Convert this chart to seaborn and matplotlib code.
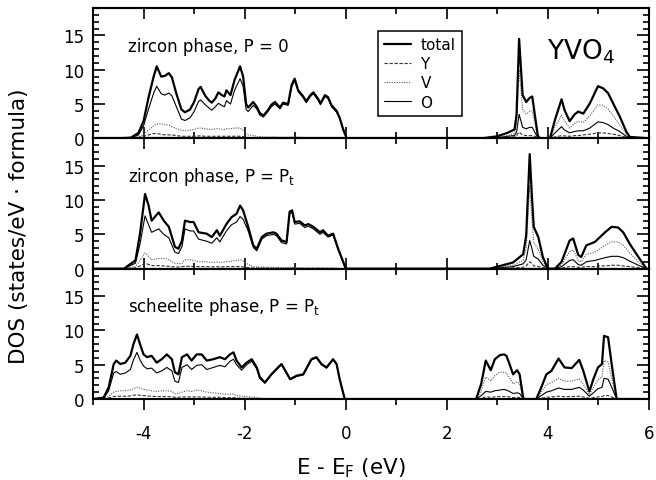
import matplotlib
matplotlib.use("Agg")
import matplotlib.pyplot as plt
from matplotlib.lines import Line2D
from matplotlib.ticker import MultipleLocator
import pandas as pd
import seaborn as sns

sns.set_style("ticks")
plt.rcParams["font.family"] = ["DejaVu Sans"]
plt.rcParams["mathtext.default"] = "regular"
plt.rcParams["axes.unicode_minus"] = False
for key in ["text.color", "axes.labelcolor", "axes.edgecolor", "xtick.color", "ytick.color"]:
    plt.rcParams[key] = "black"

# ---- zircon phase, P = 0 ----
zircon0_vb_e = [-5.0, -4.5, -4.25, -4.1, -4.0, -3.9, -3.8, -3.74, -3.65, -3.58, -3.5, -3.44, -3.35, -3.25, -3.18,
                -3.08, -3.0, -2.91, -2.87, -2.78, -2.7, -2.65, -2.58, -2.52, -2.45, -2.4, -2.36, -2.28, -2.2, -2.09,
                -2.03, -1.97, -1.93, -1.83, -1.76, -1.7, -1.63, -1.55, -1.47, -1.4, -1.3, -1.24, -1.14, -1.07, -1.01,
                -0.94, -0.85, -0.78, -0.7, -0.64, -0.55, -0.5, -0.41, -0.35, -0.28, -0.18, -0.12, -0.05, 0.02]
zircon0_vb_total = [0, 0, 0.1, 0.8, 2.5, 6.0, 9.0, 10.5, 9.0, 9.1, 9.5, 8.9, 6.5, 4.2, 3.8,
                    4.2, 5.3, 7.2, 7.5, 6.2, 5.5, 5.2, 5.8, 6.7, 6.3, 6.1, 7.0, 6.3, 8.5, 10.5,
                    9.0, 5.0, 4.5, 5.3, 4.6, 3.7, 3.3, 4.0, 4.9, 5.3, 4.5, 5.2, 5.0, 7.8, 8.7,
                    7.0, 6.2, 5.4, 6.3, 6.7, 5.8, 5.1, 6.3, 6.0, 4.8, 4.0, 3.0, 1.3, 0]
zircon0_vb_o = [0, 0, 0.05, 0.5, 1.8, 4.3, 6.6, 7.6, 6.5, 6.3, 6.6, 6.2, 4.6, 2.8, 2.6,
                3.0, 3.9, 5.4, 5.6, 4.9, 4.4, 4.1, 4.6, 5.1, 4.8, 4.6, 5.5, 5.0, 7.0, 8.7,
                7.6, 4.2, 3.9, 4.8, 4.3, 3.4, 3.1, 3.8, 4.6, 5.0, 4.3, 5.0, 4.8, 7.5, 8.4,
                6.8, 6.0, 5.2, 6.1, 6.5, 5.6, 4.9, 6.1, 5.8, 4.6, 3.8, 2.9, 1.2, 0]
zircon0_vb_v = [0, 0, 0.02, 0.2, 0.5, 1.2, 1.8, 2.1, 2.1, 2.0, 1.9, 1.7, 1.4, 1.2, 1.1,
                1.2, 1.3, 1.5, 1.5, 1.4, 1.3, 1.3, 1.4, 1.4, 1.3, 1.3, 1.4, 1.4, 1.5, 1.5,
                1.2, 0.6, 0.5, 0.4, 0.3, 0.25, 0.2, 0.2, 0.2, 0.2, 0.15, 0.15, 0.15, 0.2, 0.2,
                0.15, 0.15, 0.1, 0.1, 0.1, 0.1, 0.1, 0.1, 0.1, 0.1, 0.05, 0.05, 0.02, 0]
zircon0_vb_y = [0, 0, 0.01, 0.1, 0.3, 0.5, 0.7, 0.7, 0.6, 0.5, 0.5, 0.5, 0.4, 0.3, 0.3,
                0.3, 0.3, 0.35, 0.35, 0.3, 0.3, 0.3, 0.3, 0.3, 0.3, 0.3, 0.3, 0.3, 0.3, 0.3,
                0.25, 0.15, 0.1, 0.1, 0.1, 0.1, 0.08, 0.08, 0.08, 0.08, 0.06, 0.06, 0.06, 0.06, 0.06,
                0.05, 0.05, 0.05, 0.05, 0.05, 0.05, 0.05, 0.05, 0.05, 0.04, 0.03, 0.03, 0.01, 0]
zircon0_cb_e = [2.7, 3.0, 3.2, 3.34, 3.38, 3.43, 3.5, 3.57, 3.64, 3.69, 3.74, 3.8, 3.84, 4.04, 4.14,
                4.27, 4.33, 4.43, 4.53, 4.6, 4.7, 4.83, 4.99, 5.09, 5.19, 5.29, 5.42, 5.55, 5.62, 6.0]
zircon0_cb_total = [0, 0.3, 0.8, 1.3, 3.5, 14.5, 6.3, 5.3, 5.9, 6.1, 3.5, 0.4, 0, 0, 2.7,
                    5.7, 4.1, 2.5, 3.5, 3.9, 3.6, 5.1, 7.6, 7.3, 6.6, 5.1, 3.2, 1.0, 0.2, 0]
zircon0_cb_v = [0, 0.15, 0.4, 0.7, 2.2, 10.0, 4.2, 3.5, 3.9, 4.0, 2.3, 0.25, 0, 0, 1.6,
                3.4, 2.5, 1.5, 2.2, 2.5, 2.3, 3.3, 4.9, 4.8, 4.3, 3.3, 2.0, 0.6, 0.1, 0]
zircon0_cb_o = [0, 0.1, 0.3, 0.4, 0.9, 3.5, 1.6, 1.4, 1.6, 1.6, 0.9, 0.1, 0, 0, 0.8,
                1.7, 1.2, 0.8, 1.0, 1.1, 1.1, 1.5, 2.4, 2.3, 2.0, 1.5, 1.0, 0.3, 0.05, 0]
zircon0_cb_y = [0, 0.05, 0.1, 0.2, 0.4, 0.9, 0.5, 0.4, 0.4, 0.4, 0.3, 0.05, 0, 0, 0.2,
                0.4, 0.35, 0.3, 0.4, 0.4, 0.5, 0.6, 0.8, 0.8, 0.7, 0.6, 0.4, 0.15, 0.05, 0]

# ---- zircon phase, P = Pt ----
zirconpt_vb_e = [-5.0, -4.39, -4.16, -4.07, -3.97, -3.9, -3.84, -3.7, -3.6, -3.5, -3.38, -3.31, -3.24, -3.18, -3.08,
                 -3.01, -2.91, -2.75, -2.65, -2.55, -2.49, -2.36, -2.26, -2.16, -2.09, -2.03, -1.93, -1.83, -1.76,
                 -1.66, -1.57, -1.43, -1.37, -1.27, -1.17, -1.11, -1.06, -1.01, -0.91, -0.81, -0.74, -0.64, -0.51,
                 -0.45, -0.35, -0.25, -0.15, -0.05, 0.0]
zirconpt_vb_total = [0, 0, 1.2, 5.1, 10.9, 9.2, 7.0, 8.2, 7.0, 6.1, 3.2, 2.9, 4.1, 7.0, 6.8,
                     6.8, 5.3, 5.1, 4.6, 5.6, 4.8, 6.5, 7.5, 8.0, 9.2, 8.5, 6.1, 3.4, 2.9,
                     4.6, 5.1, 5.3, 5.1, 4.1, 3.9, 8.3, 8.5, 6.8, 6.9, 6.3, 6.5, 6.1, 5.3,
                     5.6, 4.8, 5.1, 2.9, 1.0, 0]
zirconpt_vb_o = [0, 0, 0.8, 3.6, 7.7, 6.4, 5.3, 5.8, 5.0, 4.5, 2.4, 2.2, 3.2, 5.8, 5.5,
                 5.5, 4.3, 4.0, 3.7, 4.5, 3.9, 5.5, 6.4, 6.8, 7.6, 7.2, 5.5, 3.1, 2.6,
                 4.3, 4.8, 5.0, 4.8, 3.8, 3.6, 8.0, 8.2, 6.5, 6.6, 6.0, 6.2, 5.8, 5.0,
                 5.3, 4.6, 4.9, 2.8, 0.9, 0]
zirconpt_vb_v = [0, 0, 0.3, 1.2, 2.3, 1.8, 1.3, 1.5, 1.5, 1.3, 0.8, 0.7, 0.8, 1.3, 1.3,
                 1.2, 1.0, 1.0, 0.9, 1.0, 0.9, 1.0, 1.1, 1.2, 1.3, 1.1, 0.6, 0.3, 0.25,
                 0.25, 0.2, 0.2, 0.2, 0.15, 0.15, 0.2, 0.2, 0.15, 0.15, 0.1, 0.1, 0.1, 0.1,
                 0.1, 0.1, 0.1, 0.05, 0.02, 0]
zirconpt_vb_y = [0, 0, 0.1, 0.4, 0.8, 0.6, 0.45, 0.45, 0.4, 0.35, 0.25, 0.25, 0.3, 0.35, 0.35,
                 0.3, 0.3, 0.3, 0.25, 0.3, 0.25, 0.3, 0.3, 0.3, 0.3, 0.25, 0.15, 0.1, 0.1,
                 0.1, 0.08, 0.08, 0.08, 0.06, 0.06, 0.06, 0.06, 0.05, 0.05, 0.05, 0.05, 0.05, 0.05,
                 0.05, 0.04, 0.04, 0.03, 0.01, 0]
zirconpt_cb_e = [2.85, 3.31, 3.51, 3.57, 3.64, 3.68, 3.72, 3.81, 3.9, 4.0, 4.14, 4.27, 4.43, 4.5,
                 4.6, 4.66, 4.76, 4.83, 4.93, 5.03, 5.13, 5.26, 5.39, 5.49, 5.62, 5.79, 5.95, 6.0]
zirconpt_cb_total = [0, 0.9, 2.1, 4.8, 16.7, 11.0, 6.1, 4.6, 1.7, 0, 0, 1.0, 4.1, 4.4,
                     2.0, 1.7, 3.4, 3.6, 3.9, 4.6, 5.3, 6.1, 6.0, 5.3, 3.6, 1.7, 0, 0]
zirconpt_cb_v = [0, 0.5, 1.2, 3.0, 12.0, 7.5, 3.8, 2.8, 1.0, 0, 0, 0.6, 2.5, 2.7,
                 1.2, 1.0, 2.1, 2.2, 2.4, 2.9, 3.4, 3.9, 3.9, 3.4, 2.3, 1.0, 0, 0]
zirconpt_cb_o = [0, 0.3, 0.7, 1.3, 4.1, 3.0, 1.8, 1.4, 0.5, 0, 0, 0.3, 1.2, 1.3,
                 0.6, 0.5, 1.0, 1.1, 1.2, 1.4, 1.6, 1.8, 1.8, 1.6, 1.1, 0.5, 0, 0]
zirconpt_cb_y = [0, 0.1, 0.2, 0.4, 1.0, 0.8, 0.4, 0.3, 0.15, 0, 0, 0.1, 0.3, 0.3,
                 0.2, 0.2, 0.3, 0.3, 0.3, 0.4, 0.4, 0.5, 0.5, 0.4, 0.3, 0.15, 0, 0]

# ---- scheelite phase, P = Pt ----
scheelite_vb_e = [-5.0, -4.79, -4.69, -4.59, -4.54, -4.46, -4.36, -4.26, -4.2, -4.13, -4.07, -4.0, -3.93,
                  -3.84, -3.74, -3.64, -3.54, -3.44, -3.38, -3.31, -3.24, -3.14, -3.05, -2.95, -2.85, -2.75,
                  -2.62, -2.49, -2.39, -2.29, -2.22, -2.16, -2.06, -1.96, -1.86, -1.76, -1.7, -1.6, -1.47,
                  -1.34, -1.27, -1.1, -0.97, -0.84, -0.68, -0.58, -0.48, -0.38, -0.25, -0.18, -0.12, -0.02]
scheelite_vb_total = [0, 0.2, 1.7, 5.1, 5.6, 5.1, 5.3, 6.3, 8.0, 9.4, 8.0, 6.5, 6.1,
                      6.3, 5.3, 5.8, 6.5, 5.8, 3.9, 3.6, 6.1, 6.5, 5.6, 6.5, 6.5, 5.6,
                      5.8, 6.1, 5.8, 6.5, 6.8, 5.6, 4.6, 5.3, 5.8, 4.6, 3.2, 2.4, 3.6,
                      4.6, 5.1, 2.9, 3.4, 3.6, 5.8, 6.1, 5.1, 4.6, 5.8, 5.1, 2.9, 0]
scheelite_vb_o = [0, 0.1, 1.2, 3.8, 4.0, 3.6, 3.8, 4.3, 5.7, 6.8, 5.7, 4.8, 4.4,
                  4.5, 3.8, 4.1, 4.6, 4.1, 2.6, 2.4, 4.6, 5.0, 4.3, 4.9, 5.0, 4.3,
                  4.6, 4.9, 4.7, 5.5, 5.8, 5.0, 4.2, 5.0, 5.5, 4.4, 3.0, 2.3, 3.5,
                  4.5, 5.0, 2.8, 3.3, 3.5, 5.7, 6.0, 5.0, 4.5, 5.7, 5.0, 2.8, 0]
scheelite_vb_v = [0, 0.05, 0.4, 1.0, 1.1, 1.2, 1.2, 1.3, 1.5, 1.7, 1.6, 1.4, 1.3,
                  1.2, 1.1, 1.2, 1.2, 1.1, 0.8, 0.8, 1.0, 1.2, 1.1, 1.3, 1.2, 1.0,
                  0.9, 0.8, 0.7, 0.7, 0.7, 0.5, 0.4, 0.35, 0.3, 0.2, 0.15, 0.1, 0.1,
                  0.1, 0.1, 0.1, 0.1, 0.1, 0.1, 0.1, 0.1, 0.1, 0.1, 0.05, 0.05, 0]
scheelite_vb_y = [0, 0.02, 0.15, 0.35, 0.4, 0.4, 0.4, 0.45, 0.55, 0.6, 0.55, 0.5, 0.45,
                  0.4, 0.35, 0.35, 0.35, 0.3, 0.25, 0.25, 0.3, 0.3, 0.3, 0.3, 0.3, 0.25,
                  0.25, 0.25, 0.2, 0.2, 0.2, 0.15, 0.12, 0.1, 0.1, 0.08, 0.06, 0.05, 0.05,
                  0.05, 0.05, 0.05, 0.05, 0.05, 0.05, 0.05, 0.05, 0.04, 0.04, 0.03, 0.02, 0]
scheelite_cb_e = [2.58, 2.68, 2.77, 2.87, 2.95, 3.05, 3.13, 3.18, 3.24, 3.31, 3.39, 3.44, 3.51, 3.54, 3.77, 3.87,
                  3.97, 4.07, 4.21, 4.33, 4.47, 4.62, 4.7, 4.82, 4.9, 4.99, 5.07, 5.11, 5.19, 5.28, 5.36, 6.0]
scheelite_cb_total = [0, 2.2, 5.6, 4.2, 5.8, 6.4, 6.5, 6.3, 5.1, 3.6, 4.2, 3.6, 0.2, 0, 0, 1.7,
                      3.6, 4.1, 5.9, 4.6, 4.5, 5.7, 4.1, 1.1, 2.9, 4.6, 5.1, 9.2, 9.0, 4.1, 0, 0]
scheelite_cb_v = [0, 1.2, 3.2, 2.6, 3.4, 3.9, 3.9, 3.8, 3.1, 2.2, 2.5, 2.2, 0.1, 0, 0, 1.0,
                  2.1, 2.4, 3.0, 2.6, 2.6, 2.9, 2.2, 0.6, 1.7, 2.8, 3.2, 5.6, 5.4, 2.4, 0, 0]
scheelite_cb_o = [0, 0.5, 1.1, 1.0, 1.2, 1.3, 1.4, 1.3, 1.1, 0.8, 0.9, 0.8, 0.05, 0, 0, 0.5,
                  1.0, 1.2, 1.6, 1.4, 1.4, 1.7, 1.3, 0.4, 0.9, 1.5, 1.7, 3.0, 2.9, 1.4, 0, 0]
scheelite_cb_y = [0, 0.1, 0.3, 0.25, 0.3, 0.35, 0.35, 0.35, 0.3, 0.2, 0.25, 0.2, 0.02, 0, 0, 0.1,
                  0.25, 0.3, 0.4, 0.35, 0.35, 0.4, 0.3, 0.1, 0.2, 0.3, 0.35, 0.5, 0.5, 0.25, 0, 0]

panel_labels = ["zircon phase, P = 0", "zircon phase, P = P$_t$", "scheelite phase, P = P$_t$"]
components = ["total", "Y", "V", "O"]


def band(e, total, y, v, o):
    return pd.DataFrame({"E": e, "total": total, "Y": y, "V": v, "O": o})


panels = [
    pd.concat([band(zircon0_vb_e, zircon0_vb_total, zircon0_vb_y, zircon0_vb_v, zircon0_vb_o),
               band(zircon0_cb_e, zircon0_cb_total, zircon0_cb_y, zircon0_cb_v, zircon0_cb_o)]),
    pd.concat([band(zirconpt_vb_e, zirconpt_vb_total, zirconpt_vb_y, zirconpt_vb_v, zirconpt_vb_o),
               band(zirconpt_cb_e, zirconpt_cb_total, zirconpt_cb_y, zirconpt_cb_v, zirconpt_cb_o)]),
    pd.concat([band(scheelite_vb_e, scheelite_vb_total, scheelite_vb_y, scheelite_vb_v, scheelite_vb_o),
               band(scheelite_cb_e, scheelite_cb_total, scheelite_cb_y, scheelite_cb_v, scheelite_cb_o)]),
]

styles = {
    "total": dict(color="k", linewidth=1.6, linestyle="-"),
    "Y": dict(color="0.2", linewidth=0.8, linestyle=(0, (3, 1.5))),
    "V": dict(color="0.35", linewidth=0.8, linestyle=(0, (1, 1.2))),
    "O": dict(color="k", linewidth=0.8, linestyle="-"),
}

fig, axes = plt.subplots(3, 1, figsize=(6.56, 4.81), dpi=100, sharex=True,
                         gridspec_kw=dict(hspace=0))
fig.subplots_adjust(left=93 / 656, right=649 / 656, top=1 - 9 / 481, bottom=1 - 400 / 481)

for i, (ax, df, label) in enumerate(zip(axes, panels, panel_labels)):
    for comp in ["O", "V", "Y", "total"]:
        sns.lineplot(x=df["E"], y=df[comp], ax=ax, estimator=None, sort=False,
                     errorbar=None, legend=False, **styles[comp])
    ax.set_xlim(-5, 6)
    ax.set_ylim(0, 19)
    ax.set_xlabel("")
    ax.set_ylabel("")
    ax.xaxis.set_major_locator(MultipleLocator(2))
    ax.xaxis.set_minor_locator(MultipleLocator(1))
    ax.yaxis.set_minor_locator(MultipleLocator(1))
    ax.set_yticks([0, 5, 10, 15])
    for s in ax.spines.values():
        s.set_linewidth(1.5)
    ax.tick_params(axis="y", which="both", direction="in", left=True, right=True,
                   labelsize=12, pad=6, width=1.2)
    ax.tick_params(axis="y", which="major", length=8.5)
    ax.tick_params(axis="y", which="minor", length=4.5)
    bottom_dir = "out" if i == 2 else "in"
    ax.tick_params(axis="x", which="both", direction=bottom_dir, top=False, bottom=True,
                   labelbottom=(i == 2), labelsize=12, pad=10, width=1.2)
    ax.tick_params(axis="x", which="major", length=8)
    ax.tick_params(axis="x", which="minor", length=4.5)
    sec = ax.secondary_xaxis("top")
    sec.xaxis.set_major_locator(MultipleLocator(2))
    sec.xaxis.set_minor_locator(MultipleLocator(1))
    sec.tick_params(axis="x", which="both", direction="in", labeltop=False, width=1.2)
    sec.tick_params(axis="x", which="major", length=8)
    sec.tick_params(axis="x", which="minor", length=4.5)
    sec.spines["top"].set_linewidth(1.5)
    ax.text(0.063, 0.672, label, transform=ax.transAxes, fontsize=12, va="baseline", ha="left")

axes[0].text(0.817, 0.61, "YVO$_4$", transform=axes[0].transAxes, fontsize=19,
             va="baseline", ha="left")

handles = [Line2D([], [], **styles[c]) for c in components]
leg = axes[0].legend(handles, components, loc="upper left", bbox_to_anchor=(0.512, 0.825),
                     borderaxespad=0, frameon=True, fancybox=False, framealpha=1,
                     edgecolor="k", fontsize=11, handlelength=1.8, handletextpad=0.6,
                     labelspacing=0.28, borderpad=0.4)
leg.get_frame().set_linewidth(1.1)

fig.text(19 / 656, 1 - 226 / 481, "DOS (states/eV \u00b7 formula)", rotation=90,
         fontsize=15.5, ha="center", va="center")
fig.text(351 / 656, 1 - 474 / 481, "E - E$_F$ (eV)", fontsize=15.5, ha="center", va="baseline")

fig.savefig("out.png", dpi=100)
